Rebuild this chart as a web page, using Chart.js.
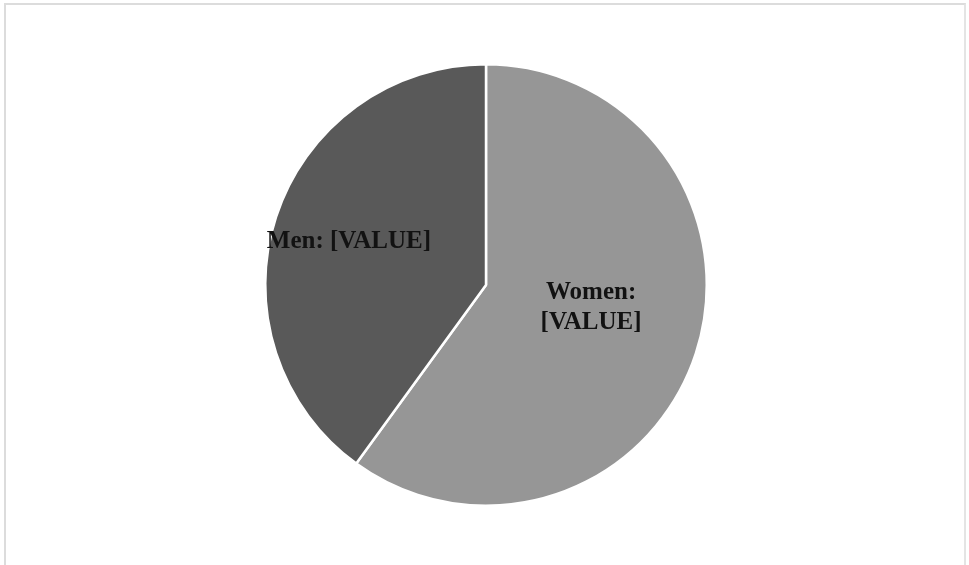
<!DOCTYPE html>
<html>
<head>
<meta charset="utf-8">
<script src="https://cdn.jsdelivr.net/npm/chart.js@4/dist/chart.umd.min.js"></script>
<style>
  html, body { margin: 0; padding: 0; background: #ffffff; }
  #wrap { position: relative; width: 969px; height: 565px; overflow: hidden; }
  #frame { position: absolute; left: 4px; top: 3px; width: 962px; height: 570px;
           border-top: 2px solid #dcdcdc; border-left: 2px solid #dcdcdc; border-right: 2px solid #e4e4e4; box-sizing: border-box; }
  #c { position: absolute; left: 0; top: 0; }
</style>
</head>
<body>
<div id="wrap">
  <div id="frame"></div>
  <canvas id="c" width="969" height="565"></canvas>
</div>
<script>
const categories = ["Women", "Men"];
const values = [60, 40];
const labelLines = [["Women:", "[VALUE]"], ["Men: [VALUE]"]];
const colors = ["#969696", "#595959"];

const labelPlugin = {
  id: 'sliceLabels',
  afterDatasetsDraw(chart, args, opts) {
    const ctx = chart.ctx;
    const meta = chart.getDatasetMeta(0);
    ctx.save();
    ctx.font = opts.font;
    ctx.fillStyle = opts.color;
    ctx.textAlign = 'center';
    ctx.textBaseline = 'middle';
    meta.data.forEach((arc, i) => {
      const r = arc.outerRadius;
      const off = opts.offsets[i];
      const cx = arc.x + off[0] * r;
      const cy = arc.y + off[1] * r;
      const lines = labelLines[i];
      const lh = opts.lineHeight;
      const y0 = cy - (lines.length - 1) * lh / 2;
      lines.forEach((t, k) => ctx.fillText(t, cx, y0 + k * lh));
    });
    ctx.restore();
  }
};

new Chart(document.getElementById('c'), {
  type: 'pie',
  data: {
    labels: categories,
    datasets: [{
      data: values,
      backgroundColor: colors,
      borderColor: '#ffffff',
      borderWidth: 2.5
    }]
  },
  options: {
    responsive: false,
    animation: false,
    layout: { padding: { top: 63, bottom: 58, left: 3, right: 0 } },
    plugins: {
      legend: { display: false },
      tooltip: { enabled: false },
      sliceLabels: {
        font: 'bold 25px "Liberation Serif", "Times New Roman", serif',
        color: '#121212',
        lineHeight: 30,
        offsets: [[0.476, 0.104], [-0.621, -0.195]]
      }
    }
  },
  plugins: [labelPlugin]
});
</script>
</body>
</html>
